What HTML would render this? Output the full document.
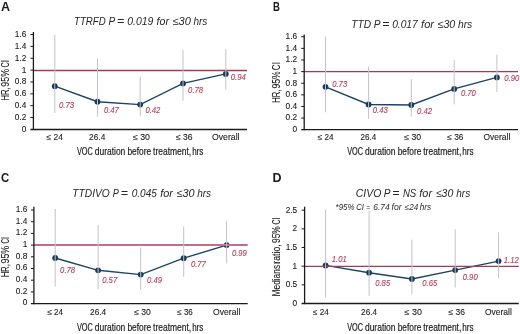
<!DOCTYPE html>
<html><head><meta charset="utf-8"><style>
html,body{margin:0;padding:0;background:#fff;}
svg{display:block;font-family:"Liberation Sans",sans-serif;will-change:transform;}
</style></head><body>
<svg width="520" height="334" viewBox="0 0 520 334" xmlns="http://www.w3.org/2000/svg">
<text x="1.00" y="10.70" font-size="12.5" text-anchor="start" font-weight="bold" font-style="normal" fill="#1a1a1a">A</text>
<text x="74.03" y="25.40" font-size="11" text-anchor="start" font-weight="normal" font-style="italic" fill="#262626" textLength="31.78" lengthAdjust="spacingAndGlyphs">TTRFD</text>
<text x="108.40" y="25.40" font-size="11" text-anchor="start" font-weight="normal" font-style="italic" fill="#262626" textLength="6.67" lengthAdjust="spacingAndGlyphs">P</text>
<text x="117.10" y="25.40" font-size="11" text-anchor="start" font-weight="normal" font-style="italic" fill="#262626" textLength="7.22" lengthAdjust="spacingAndGlyphs">=</text>
<text x="127.23" y="25.40" font-size="11" text-anchor="start" font-weight="normal" font-style="italic" fill="#262626" textLength="26.1" lengthAdjust="spacingAndGlyphs">0.019</text>
<text x="156.53" y="25.40" font-size="11" text-anchor="start" font-weight="normal" font-style="italic" fill="#262626" textLength="12.42" lengthAdjust="spacingAndGlyphs">for</text>
<text x="172.47" y="25.40" font-size="11" text-anchor="start" font-weight="normal" font-style="italic" fill="#262626" textLength="18.3" lengthAdjust="spacingAndGlyphs">≤30</text>
<text x="193.45" y="25.40" font-size="11" text-anchor="start" font-weight="normal" font-style="italic" fill="#262626" textLength="13.84" lengthAdjust="spacingAndGlyphs">hrs</text>
<polyline points="54.80,86.20 97.50,101.70 140.20,104.60 183.00,83.40 225.80,73.90" fill="none" stroke="#1c4368" stroke-width="1.4"/>
<circle cx="54.80" cy="86.20" r="2.9" fill="#153a5c"/>
<circle cx="97.50" cy="101.70" r="2.9" fill="#153a5c"/>
<circle cx="140.20" cy="104.60" r="2.9" fill="#153a5c"/>
<circle cx="183.00" cy="83.40" r="2.9" fill="#153a5c"/>
<circle cx="225.80" cy="73.90" r="2.9" fill="#153a5c"/>
<line x1="33.40" y1="70.50" x2="247.00" y2="70.50" stroke="#a83858" stroke-width="1.4"/>
<line x1="54.80" y1="34.80" x2="54.80" y2="113.00" stroke="#c2c3c6" stroke-width="1"/>
<line x1="97.50" y1="58.80" x2="97.50" y2="116.70" stroke="#c2c3c6" stroke-width="1"/>
<line x1="140.20" y1="77.00" x2="140.20" y2="116.20" stroke="#c2c3c6" stroke-width="1"/>
<line x1="183.00" y1="49.90" x2="183.00" y2="100.60" stroke="#c2c3c6" stroke-width="1"/>
<line x1="225.80" y1="49.20" x2="225.80" y2="89.60" stroke="#c2c3c6" stroke-width="1"/>
<line x1="33.40" y1="32.00" x2="33.40" y2="130.15" stroke="#1a1a1a" stroke-width="1.3"/>
<line x1="30.40" y1="129.50" x2="247.00" y2="129.50" stroke="#1a1a1a" stroke-width="1.3"/>
<text x="26.30" y="131.80" font-size="8.3" text-anchor="end" font-weight="normal" font-style="normal" fill="#1a1a1a" stroke="#1a1a1a" stroke-width="0.1">0</text>
<line x1="30.40" y1="117.54" x2="33.40" y2="117.54" stroke="#1a1a1a" stroke-width="1"/>
<text x="26.30" y="119.94" font-size="8.3" text-anchor="end" font-weight="normal" font-style="normal" fill="#1a1a1a" stroke="#1a1a1a" stroke-width="0.1">0.2</text>
<line x1="30.40" y1="105.68" x2="33.40" y2="105.68" stroke="#1a1a1a" stroke-width="1"/>
<text x="26.30" y="108.08" font-size="8.3" text-anchor="end" font-weight="normal" font-style="normal" fill="#1a1a1a" stroke="#1a1a1a" stroke-width="0.1">0.4</text>
<line x1="30.40" y1="93.82" x2="33.40" y2="93.82" stroke="#1a1a1a" stroke-width="1"/>
<text x="26.30" y="96.22" font-size="8.3" text-anchor="end" font-weight="normal" font-style="normal" fill="#1a1a1a" stroke="#1a1a1a" stroke-width="0.1">0.6</text>
<line x1="30.40" y1="81.96" x2="33.40" y2="81.96" stroke="#1a1a1a" stroke-width="1"/>
<text x="26.30" y="84.36" font-size="8.3" text-anchor="end" font-weight="normal" font-style="normal" fill="#1a1a1a" stroke="#1a1a1a" stroke-width="0.1">0.8</text>
<line x1="30.40" y1="70.10" x2="33.40" y2="70.10" stroke="#1a1a1a" stroke-width="1"/>
<text x="26.30" y="72.50" font-size="8.3" text-anchor="end" font-weight="normal" font-style="normal" fill="#1a1a1a" stroke="#1a1a1a" stroke-width="0.1">1</text>
<line x1="30.40" y1="58.24" x2="33.40" y2="58.24" stroke="#1a1a1a" stroke-width="1"/>
<text x="26.30" y="60.64" font-size="8.3" text-anchor="end" font-weight="normal" font-style="normal" fill="#1a1a1a" stroke="#1a1a1a" stroke-width="0.1">1.2</text>
<line x1="30.40" y1="46.38" x2="33.40" y2="46.38" stroke="#1a1a1a" stroke-width="1"/>
<text x="26.30" y="48.78" font-size="8.3" text-anchor="end" font-weight="normal" font-style="normal" fill="#1a1a1a" stroke="#1a1a1a" stroke-width="0.1">1.4</text>
<line x1="30.40" y1="34.52" x2="33.40" y2="34.52" stroke="#1a1a1a" stroke-width="1"/>
<text x="26.30" y="36.92" font-size="8.3" text-anchor="end" font-weight="normal" font-style="normal" fill="#1a1a1a" stroke="#1a1a1a" stroke-width="0.1">1.6</text>
<text x="59.00" y="107.70" font-size="9.2" text-anchor="start" font-weight="normal" font-style="italic" fill="#b33a55" stroke="#b33a55" stroke-width="0.1" textLength="15.0" lengthAdjust="spacingAndGlyphs">0.73</text>
<text x="103.90" y="113.20" font-size="9.2" text-anchor="start" font-weight="normal" font-style="italic" fill="#b33a55" stroke="#b33a55" stroke-width="0.1" textLength="15.0" lengthAdjust="spacingAndGlyphs">0.47</text>
<text x="145.40" y="113.40" font-size="9.2" text-anchor="start" font-weight="normal" font-style="italic" fill="#b33a55" stroke="#b33a55" stroke-width="0.1" textLength="15.0" lengthAdjust="spacingAndGlyphs">0.42</text>
<text x="188.10" y="93.10" font-size="9.2" text-anchor="start" font-weight="normal" font-style="italic" fill="#b33a55" stroke="#b33a55" stroke-width="0.1" textLength="15.0" lengthAdjust="spacingAndGlyphs">0.78</text>
<text x="230.80" y="80.40" font-size="9.2" text-anchor="start" font-weight="normal" font-style="italic" fill="#b33a55" stroke="#b33a55" stroke-width="0.1" textLength="15.0" lengthAdjust="spacingAndGlyphs">0.94</text>
<text x="46.50" y="140.10" font-size="8.4" text-anchor="start" font-weight="normal" font-style="normal" fill="#1a1a1a" stroke="#1a1a1a" stroke-width="0.1" textLength="16.4" lengthAdjust="spacingAndGlyphs">≤ 24</text>
<text x="89.10" y="140.10" font-size="8.4" text-anchor="start" font-weight="normal" font-style="normal" fill="#1a1a1a" stroke="#1a1a1a" stroke-width="0.1" textLength="16.200000000000003" lengthAdjust="spacingAndGlyphs">26.4</text>
<text x="133.00" y="140.10" font-size="8.4" text-anchor="start" font-weight="normal" font-style="normal" fill="#1a1a1a" stroke="#1a1a1a" stroke-width="0.1" textLength="17" lengthAdjust="spacingAndGlyphs">≤ 30</text>
<text x="176.00" y="140.10" font-size="8.4" text-anchor="start" font-weight="normal" font-style="normal" fill="#1a1a1a" stroke="#1a1a1a" stroke-width="0.1" textLength="16.5" lengthAdjust="spacingAndGlyphs">≤ 36</text>
<text x="212.00" y="140.10" font-size="8.4" text-anchor="start" font-weight="normal" font-style="normal" fill="#1a1a1a" stroke="#1a1a1a" stroke-width="0.1" textLength="27.5" lengthAdjust="spacingAndGlyphs">Overall</text>
<text x="76.96" y="154.70" font-size="11.2" text-anchor="start" font-weight="normal" font-style="normal" fill="#1a1a1a" stroke="#1a1a1a" stroke-width="0.2" textLength="15.81" lengthAdjust="spacingAndGlyphs">VOC</text>
<text x="94.76" y="154.70" font-size="11.2" text-anchor="start" font-weight="normal" font-style="normal" fill="#1a1a1a" stroke="#1a1a1a" stroke-width="0.2" textLength="30.58" lengthAdjust="spacingAndGlyphs">duration</text>
<text x="127.46" y="154.70" font-size="11.2" text-anchor="start" font-weight="normal" font-style="normal" fill="#1a1a1a" stroke="#1a1a1a" stroke-width="0.2" textLength="23.72" lengthAdjust="spacingAndGlyphs">before</text>
<text x="153.07" y="154.70" font-size="11.2" text-anchor="start" font-weight="normal" font-style="normal" fill="#1a1a1a" stroke="#1a1a1a" stroke-width="0.2" textLength="38.06" lengthAdjust="spacingAndGlyphs">treatment,</text>
<text x="192.13" y="154.70" font-size="11.2" text-anchor="start" font-weight="normal" font-style="normal" fill="#1a1a1a" stroke="#1a1a1a" stroke-width="0.2" textLength="11.24" lengthAdjust="spacingAndGlyphs">hrs</text>
<text transform="translate(9.00,0) rotate(-90)" x="-100.51" y="0" font-size="10" fill="#1a1a1a" stroke="#1a1a1a" stroke-width="0.1" textLength="13.07" lengthAdjust="spacingAndGlyphs">HR,</text>
<text transform="translate(9.00,0) rotate(-90)" x="-86.70" y="0" font-size="10" fill="#1a1a1a" stroke="#1a1a1a" stroke-width="0.1" textLength="17.83" lengthAdjust="spacingAndGlyphs">95%</text>
<text transform="translate(9.00,0) rotate(-90)" x="-67.47" y="0" font-size="10" fill="#1a1a1a" stroke="#1a1a1a" stroke-width="0.1" textLength="7.37" lengthAdjust="spacingAndGlyphs">CI</text>
<text x="272.90" y="10.60" font-size="12.5" text-anchor="start" font-weight="bold" font-style="normal" fill="#1a1a1a" textLength="6.9" lengthAdjust="spacingAndGlyphs">B</text>
<text x="351.28" y="27.60" font-size="11" text-anchor="start" font-weight="normal" font-style="italic" fill="#262626" textLength="19.87" lengthAdjust="spacingAndGlyphs">TTD</text>
<text x="373.70" y="27.60" font-size="11" text-anchor="start" font-weight="normal" font-style="italic" fill="#262626" textLength="6.78" lengthAdjust="spacingAndGlyphs">P</text>
<text x="382.20" y="27.60" font-size="11" text-anchor="start" font-weight="normal" font-style="italic" fill="#262626" textLength="7.22" lengthAdjust="spacingAndGlyphs">=</text>
<text x="392.14" y="27.60" font-size="11" text-anchor="start" font-weight="normal" font-style="italic" fill="#262626" textLength="25.58" lengthAdjust="spacingAndGlyphs">0.017</text>
<text x="421.11" y="27.60" font-size="11" text-anchor="start" font-weight="normal" font-style="italic" fill="#262626" textLength="12.92" lengthAdjust="spacingAndGlyphs">for</text>
<text x="437.58" y="27.60" font-size="11" text-anchor="start" font-weight="normal" font-style="italic" fill="#262626" textLength="17.69" lengthAdjust="spacingAndGlyphs">≤30</text>
<text x="457.95" y="27.60" font-size="11" text-anchor="start" font-weight="normal" font-style="italic" fill="#262626" textLength="14.25" lengthAdjust="spacingAndGlyphs">hrs</text>
<polyline points="325.50,86.80 368.60,104.50 411.30,105.00 454.20,88.90 496.90,77.40" fill="none" stroke="#1c4368" stroke-width="1.4"/>
<circle cx="325.50" cy="86.80" r="2.9" fill="#153a5c"/>
<circle cx="368.60" cy="104.50" r="2.9" fill="#153a5c"/>
<circle cx="411.30" cy="105.00" r="2.9" fill="#153a5c"/>
<circle cx="454.20" cy="88.90" r="2.9" fill="#153a5c"/>
<circle cx="496.90" cy="77.40" r="2.9" fill="#153a5c"/>
<line x1="304.20" y1="71.65" x2="518.00" y2="71.65" stroke="#a83858" stroke-width="1.4"/>
<line x1="325.50" y1="36.50" x2="325.50" y2="112.30" stroke="#c2c3c6" stroke-width="1"/>
<line x1="368.60" y1="66.70" x2="368.60" y2="118.70" stroke="#c2c3c6" stroke-width="1"/>
<line x1="411.30" y1="79.20" x2="411.30" y2="116.50" stroke="#c2c3c6" stroke-width="1"/>
<line x1="454.20" y1="60.10" x2="454.20" y2="104.60" stroke="#c2c3c6" stroke-width="1"/>
<line x1="496.90" y1="54.50" x2="496.90" y2="91.90" stroke="#c2c3c6" stroke-width="1"/>
<line x1="304.20" y1="34.50" x2="304.20" y2="130.25" stroke="#1a1a1a" stroke-width="1.3"/>
<line x1="301.20" y1="129.60" x2="518.00" y2="129.60" stroke="#1a1a1a" stroke-width="1.3"/>
<text x="297.10" y="132.10" font-size="8.3" text-anchor="end" font-weight="normal" font-style="normal" fill="#1a1a1a" stroke="#1a1a1a" stroke-width="0.1">0</text>
<line x1="301.20" y1="118.08" x2="304.20" y2="118.08" stroke="#1a1a1a" stroke-width="1"/>
<text x="297.10" y="120.48" font-size="8.3" text-anchor="end" font-weight="normal" font-style="normal" fill="#1a1a1a" stroke="#1a1a1a" stroke-width="0.1">0.2</text>
<line x1="301.20" y1="106.46" x2="304.20" y2="106.46" stroke="#1a1a1a" stroke-width="1"/>
<text x="297.10" y="108.86" font-size="8.3" text-anchor="end" font-weight="normal" font-style="normal" fill="#1a1a1a" stroke="#1a1a1a" stroke-width="0.1">0.4</text>
<line x1="301.20" y1="94.84" x2="304.20" y2="94.84" stroke="#1a1a1a" stroke-width="1"/>
<text x="297.10" y="97.24" font-size="8.3" text-anchor="end" font-weight="normal" font-style="normal" fill="#1a1a1a" stroke="#1a1a1a" stroke-width="0.1">0.6</text>
<line x1="301.20" y1="83.22" x2="304.20" y2="83.22" stroke="#1a1a1a" stroke-width="1"/>
<text x="297.10" y="85.62" font-size="8.3" text-anchor="end" font-weight="normal" font-style="normal" fill="#1a1a1a" stroke="#1a1a1a" stroke-width="0.1">0.8</text>
<line x1="301.20" y1="71.60" x2="304.20" y2="71.60" stroke="#1a1a1a" stroke-width="1"/>
<text x="297.10" y="74.00" font-size="8.3" text-anchor="end" font-weight="normal" font-style="normal" fill="#1a1a1a" stroke="#1a1a1a" stroke-width="0.1">1</text>
<line x1="301.20" y1="59.98" x2="304.20" y2="59.98" stroke="#1a1a1a" stroke-width="1"/>
<text x="297.10" y="62.38" font-size="8.3" text-anchor="end" font-weight="normal" font-style="normal" fill="#1a1a1a" stroke="#1a1a1a" stroke-width="0.1">1.2</text>
<line x1="301.20" y1="48.36" x2="304.20" y2="48.36" stroke="#1a1a1a" stroke-width="1"/>
<text x="297.10" y="50.76" font-size="8.3" text-anchor="end" font-weight="normal" font-style="normal" fill="#1a1a1a" stroke="#1a1a1a" stroke-width="0.1">1.4</text>
<line x1="301.20" y1="36.74" x2="304.20" y2="36.74" stroke="#1a1a1a" stroke-width="1"/>
<text x="297.10" y="39.14" font-size="8.3" text-anchor="end" font-weight="normal" font-style="normal" fill="#1a1a1a" stroke="#1a1a1a" stroke-width="0.1">1.6</text>
<text x="332.20" y="86.90" font-size="9.2" text-anchor="start" font-weight="normal" font-style="italic" fill="#b33a55" stroke="#b33a55" stroke-width="0.1" textLength="15.0" lengthAdjust="spacingAndGlyphs">0.73</text>
<text x="372.80" y="113.00" font-size="9.2" text-anchor="start" font-weight="normal" font-style="italic" fill="#b33a55" stroke="#b33a55" stroke-width="0.1" textLength="15.0" lengthAdjust="spacingAndGlyphs">0.43</text>
<text x="417.00" y="113.80" font-size="9.2" text-anchor="start" font-weight="normal" font-style="italic" fill="#b33a55" stroke="#b33a55" stroke-width="0.1" textLength="15.0" lengthAdjust="spacingAndGlyphs">0.42</text>
<text x="460.90" y="95.80" font-size="9.2" text-anchor="start" font-weight="normal" font-style="italic" fill="#b33a55" stroke="#b33a55" stroke-width="0.1" textLength="15.0" lengthAdjust="spacingAndGlyphs">0.70</text>
<text x="504.30" y="81.10" font-size="9.2" text-anchor="start" font-weight="normal" font-style="italic" fill="#b33a55" stroke="#b33a55" stroke-width="0.1" textLength="15.0" lengthAdjust="spacingAndGlyphs">0.90</text>
<text x="317.80" y="140.10" font-size="8.4" text-anchor="start" font-weight="normal" font-style="normal" fill="#1a1a1a" stroke="#1a1a1a" stroke-width="0.1" textLength="15.800000000000011" lengthAdjust="spacingAndGlyphs">≤ 24</text>
<text x="360.50" y="140.10" font-size="8.4" text-anchor="start" font-weight="normal" font-style="normal" fill="#1a1a1a" stroke="#1a1a1a" stroke-width="0.1" textLength="15.699999999999989" lengthAdjust="spacingAndGlyphs">26.4</text>
<text x="404.20" y="140.10" font-size="8.4" text-anchor="start" font-weight="normal" font-style="normal" fill="#1a1a1a" stroke="#1a1a1a" stroke-width="0.1" textLength="17.0" lengthAdjust="spacingAndGlyphs">≤ 30</text>
<text x="447.30" y="140.10" font-size="8.4" text-anchor="start" font-weight="normal" font-style="normal" fill="#1a1a1a" stroke="#1a1a1a" stroke-width="0.1" textLength="16.19999999999999" lengthAdjust="spacingAndGlyphs">≤ 36</text>
<text x="483.50" y="140.10" font-size="8.4" text-anchor="start" font-weight="normal" font-style="normal" fill="#1a1a1a" stroke="#1a1a1a" stroke-width="0.1" textLength="26.80000000000001" lengthAdjust="spacingAndGlyphs">Overall</text>
<text x="347.16" y="154.70" font-size="11.2" text-anchor="start" font-weight="normal" font-style="normal" fill="#1a1a1a" stroke="#1a1a1a" stroke-width="0.2" textLength="15.81" lengthAdjust="spacingAndGlyphs">VOC</text>
<text x="364.96" y="154.70" font-size="11.2" text-anchor="start" font-weight="normal" font-style="normal" fill="#1a1a1a" stroke="#1a1a1a" stroke-width="0.2" textLength="30.58" lengthAdjust="spacingAndGlyphs">duration</text>
<text x="397.66" y="154.70" font-size="11.2" text-anchor="start" font-weight="normal" font-style="normal" fill="#1a1a1a" stroke="#1a1a1a" stroke-width="0.2" textLength="23.72" lengthAdjust="spacingAndGlyphs">before</text>
<text x="423.27" y="154.70" font-size="11.2" text-anchor="start" font-weight="normal" font-style="normal" fill="#1a1a1a" stroke="#1a1a1a" stroke-width="0.2" textLength="38.06" lengthAdjust="spacingAndGlyphs">treatment,</text>
<text x="462.33" y="154.70" font-size="11.2" text-anchor="start" font-weight="normal" font-style="normal" fill="#1a1a1a" stroke="#1a1a1a" stroke-width="0.2" textLength="11.24" lengthAdjust="spacingAndGlyphs">hrs</text>
<text transform="translate(280.00,0) rotate(-90)" x="-102.71" y="0" font-size="10" fill="#1a1a1a" stroke="#1a1a1a" stroke-width="0.1" textLength="13.07" lengthAdjust="spacingAndGlyphs">HR,</text>
<text transform="translate(280.00,0) rotate(-90)" x="-88.49" y="0" font-size="10" fill="#1a1a1a" stroke="#1a1a1a" stroke-width="0.1" textLength="17.20" lengthAdjust="spacingAndGlyphs">95%</text>
<text transform="translate(280.00,0) rotate(-90)" x="-70.20" y="0" font-size="10" fill="#1a1a1a" stroke="#1a1a1a" stroke-width="0.1" textLength="8.07" lengthAdjust="spacingAndGlyphs">CI</text>
<text x="1.00" y="181.80" font-size="12.5" text-anchor="start" font-weight="bold" font-style="normal" fill="#1a1a1a" textLength="8.2" lengthAdjust="spacingAndGlyphs">C</text>
<text x="72.28" y="196.90" font-size="11" text-anchor="start" font-weight="normal" font-style="italic" fill="#262626" textLength="37.49" lengthAdjust="spacingAndGlyphs">TTDIVO</text>
<text x="112.73" y="196.90" font-size="11" text-anchor="start" font-weight="normal" font-style="italic" fill="#262626" textLength="6.09" lengthAdjust="spacingAndGlyphs">P</text>
<text x="120.80" y="196.90" font-size="11" text-anchor="start" font-weight="normal" font-style="italic" fill="#262626" textLength="7.22" lengthAdjust="spacingAndGlyphs">=</text>
<text x="131.65" y="196.90" font-size="11" text-anchor="start" font-weight="normal" font-style="italic" fill="#262626" textLength="25.23" lengthAdjust="spacingAndGlyphs">0.045</text>
<text x="160.22" y="196.90" font-size="11" text-anchor="start" font-weight="normal" font-style="italic" fill="#262626" textLength="12.72" lengthAdjust="spacingAndGlyphs">for</text>
<text x="176.48" y="196.90" font-size="11" text-anchor="start" font-weight="normal" font-style="italic" fill="#262626" textLength="17.99" lengthAdjust="spacingAndGlyphs">≤30</text>
<text x="197.15" y="196.90" font-size="11" text-anchor="start" font-weight="normal" font-style="italic" fill="#262626" textLength="13.94" lengthAdjust="spacingAndGlyphs">hrs</text>
<polyline points="55.20,258.00 98.10,270.30 140.70,274.60 183.70,258.20 226.60,245.10" fill="none" stroke="#1c4368" stroke-width="1.4"/>
<circle cx="55.20" cy="258.00" r="2.9" fill="#153a5c"/>
<circle cx="98.10" cy="270.30" r="2.9" fill="#153a5c"/>
<circle cx="140.70" cy="274.60" r="2.9" fill="#153a5c"/>
<circle cx="183.70" cy="258.20" r="2.9" fill="#153a5c"/>
<circle cx="226.60" cy="245.10" r="2.9" fill="#153a5c"/>
<line x1="33.90" y1="245.00" x2="247.70" y2="245.00" stroke="#c86a8a" stroke-width="2.0"/>
<line x1="55.20" y1="208.90" x2="55.20" y2="286.50" stroke="#c2c3c6" stroke-width="1"/>
<line x1="98.10" y1="225.00" x2="98.10" y2="289.10" stroke="#c2c3c6" stroke-width="1"/>
<line x1="140.70" y1="247.40" x2="140.70" y2="289.60" stroke="#c2c3c6" stroke-width="1"/>
<line x1="183.70" y1="226.50" x2="183.70" y2="276.90" stroke="#c2c3c6" stroke-width="1"/>
<line x1="226.60" y1="221.20" x2="226.60" y2="263.10" stroke="#c2c3c6" stroke-width="1"/>
<line x1="33.90" y1="206.70" x2="33.90" y2="304.35" stroke="#1a1a1a" stroke-width="1.3"/>
<line x1="30.90" y1="303.70" x2="247.70" y2="303.70" stroke="#1a1a1a" stroke-width="1.3"/>
<text x="27.40" y="305.40" font-size="8.3" text-anchor="end" font-weight="normal" font-style="normal" fill="#1a1a1a" stroke="#1a1a1a" stroke-width="0.1">0</text>
<line x1="30.90" y1="291.90" x2="33.90" y2="291.90" stroke="#1a1a1a" stroke-width="1"/>
<text x="27.40" y="293.70" font-size="8.3" text-anchor="end" font-weight="normal" font-style="normal" fill="#1a1a1a" stroke="#1a1a1a" stroke-width="0.1">0.2</text>
<line x1="30.90" y1="280.20" x2="33.90" y2="280.20" stroke="#1a1a1a" stroke-width="1"/>
<text x="27.40" y="282.00" font-size="8.3" text-anchor="end" font-weight="normal" font-style="normal" fill="#1a1a1a" stroke="#1a1a1a" stroke-width="0.1">0.4</text>
<line x1="30.90" y1="268.50" x2="33.90" y2="268.50" stroke="#1a1a1a" stroke-width="1"/>
<text x="27.40" y="270.30" font-size="8.3" text-anchor="end" font-weight="normal" font-style="normal" fill="#1a1a1a" stroke="#1a1a1a" stroke-width="0.1">0.6</text>
<line x1="30.90" y1="256.80" x2="33.90" y2="256.80" stroke="#1a1a1a" stroke-width="1"/>
<text x="27.40" y="258.60" font-size="8.3" text-anchor="end" font-weight="normal" font-style="normal" fill="#1a1a1a" stroke="#1a1a1a" stroke-width="0.1">0.8</text>
<line x1="30.90" y1="245.10" x2="33.90" y2="245.10" stroke="#1a1a1a" stroke-width="1"/>
<text x="27.40" y="246.90" font-size="8.3" text-anchor="end" font-weight="normal" font-style="normal" fill="#1a1a1a" stroke="#1a1a1a" stroke-width="0.1">1</text>
<line x1="30.90" y1="233.40" x2="33.90" y2="233.40" stroke="#1a1a1a" stroke-width="1"/>
<text x="27.40" y="235.20" font-size="8.3" text-anchor="end" font-weight="normal" font-style="normal" fill="#1a1a1a" stroke="#1a1a1a" stroke-width="0.1">1.2</text>
<line x1="30.90" y1="221.70" x2="33.90" y2="221.70" stroke="#1a1a1a" stroke-width="1"/>
<text x="27.40" y="223.50" font-size="8.3" text-anchor="end" font-weight="normal" font-style="normal" fill="#1a1a1a" stroke="#1a1a1a" stroke-width="0.1">1.4</text>
<line x1="30.90" y1="210.00" x2="33.90" y2="210.00" stroke="#1a1a1a" stroke-width="1"/>
<text x="27.40" y="211.80" font-size="8.3" text-anchor="end" font-weight="normal" font-style="normal" fill="#1a1a1a" stroke="#1a1a1a" stroke-width="0.1">1.6</text>
<text x="60.10" y="273.20" font-size="9.2" text-anchor="start" font-weight="normal" font-style="italic" fill="#b33a55" stroke="#b33a55" stroke-width="0.1" textLength="15.0" lengthAdjust="spacingAndGlyphs">0.78</text>
<text x="102.20" y="283.00" font-size="9.2" text-anchor="start" font-weight="normal" font-style="italic" fill="#b33a55" stroke="#b33a55" stroke-width="0.1" textLength="15.0" lengthAdjust="spacingAndGlyphs">0.57</text>
<text x="147.00" y="283.20" font-size="9.2" text-anchor="start" font-weight="normal" font-style="italic" fill="#b33a55" stroke="#b33a55" stroke-width="0.1" textLength="15.0" lengthAdjust="spacingAndGlyphs">0.49</text>
<text x="190.90" y="267.00" font-size="9.2" text-anchor="start" font-weight="normal" font-style="italic" fill="#b33a55" stroke="#b33a55" stroke-width="0.1" textLength="15.0" lengthAdjust="spacingAndGlyphs">0.77</text>
<text x="231.90" y="255.50" font-size="9.2" text-anchor="start" font-weight="normal" font-style="italic" fill="#b33a55" stroke="#b33a55" stroke-width="0.1" textLength="15.0" lengthAdjust="spacingAndGlyphs">0.99</text>
<text x="47.40" y="314.80" font-size="8.4" text-anchor="start" font-weight="normal" font-style="normal" fill="#1a1a1a" stroke="#1a1a1a" stroke-width="0.1" textLength="15.700000000000003" lengthAdjust="spacingAndGlyphs">≤ 24</text>
<text x="90.10" y="314.80" font-size="8.4" text-anchor="start" font-weight="normal" font-style="normal" fill="#1a1a1a" stroke="#1a1a1a" stroke-width="0.1" textLength="16.10000000000001" lengthAdjust="spacingAndGlyphs">26.4</text>
<text x="134.20" y="314.80" font-size="8.4" text-anchor="start" font-weight="normal" font-style="normal" fill="#1a1a1a" stroke="#1a1a1a" stroke-width="0.1" textLength="16.600000000000023" lengthAdjust="spacingAndGlyphs">≤ 30</text>
<text x="177.30" y="314.80" font-size="8.4" text-anchor="start" font-weight="normal" font-style="normal" fill="#1a1a1a" stroke="#1a1a1a" stroke-width="0.1" textLength="15.5" lengthAdjust="spacingAndGlyphs">≤ 36</text>
<text x="213.10" y="314.80" font-size="8.4" text-anchor="start" font-weight="normal" font-style="normal" fill="#1a1a1a" stroke="#1a1a1a" stroke-width="0.1" textLength="27.200000000000017" lengthAdjust="spacingAndGlyphs">Overall</text>
<text x="76.96" y="331.20" font-size="11.2" text-anchor="start" font-weight="normal" font-style="normal" fill="#1a1a1a" stroke="#1a1a1a" stroke-width="0.2" textLength="15.81" lengthAdjust="spacingAndGlyphs">VOC</text>
<text x="94.76" y="331.20" font-size="11.2" text-anchor="start" font-weight="normal" font-style="normal" fill="#1a1a1a" stroke="#1a1a1a" stroke-width="0.2" textLength="30.58" lengthAdjust="spacingAndGlyphs">duration</text>
<text x="127.46" y="331.20" font-size="11.2" text-anchor="start" font-weight="normal" font-style="normal" fill="#1a1a1a" stroke="#1a1a1a" stroke-width="0.2" textLength="23.72" lengthAdjust="spacingAndGlyphs">before</text>
<text x="153.07" y="331.20" font-size="11.2" text-anchor="start" font-weight="normal" font-style="normal" fill="#1a1a1a" stroke="#1a1a1a" stroke-width="0.2" textLength="38.06" lengthAdjust="spacingAndGlyphs">treatment,</text>
<text x="192.13" y="331.20" font-size="11.2" text-anchor="start" font-weight="normal" font-style="normal" fill="#1a1a1a" stroke="#1a1a1a" stroke-width="0.2" textLength="11.24" lengthAdjust="spacingAndGlyphs">hrs</text>
<text transform="translate(9.00,0) rotate(-90)" x="-276.99" y="0" font-size="10" fill="#1a1a1a" stroke="#1a1a1a" stroke-width="0.1" textLength="12.74" lengthAdjust="spacingAndGlyphs">HR,</text>
<text transform="translate(9.00,0) rotate(-90)" x="-263.50" y="0" font-size="10" fill="#1a1a1a" stroke="#1a1a1a" stroke-width="0.1" textLength="17.62" lengthAdjust="spacingAndGlyphs">95%</text>
<text transform="translate(9.00,0) rotate(-90)" x="-243.51" y="0" font-size="10" fill="#1a1a1a" stroke="#1a1a1a" stroke-width="0.1" textLength="6.20" lengthAdjust="spacingAndGlyphs">CI</text>
<text x="272.50" y="181.50" font-size="12.5" text-anchor="start" font-weight="bold" font-style="normal" fill="#1a1a1a">D</text>
<text x="355.72" y="196.90" font-size="11" text-anchor="start" font-weight="normal" font-style="italic" fill="#262626" textLength="25.69" lengthAdjust="spacingAndGlyphs">CIVO</text>
<text x="383.70" y="196.90" font-size="11" text-anchor="start" font-weight="normal" font-style="italic" fill="#262626" textLength="6.78" lengthAdjust="spacingAndGlyphs">P</text>
<text x="392.20" y="196.90" font-size="11" text-anchor="start" font-weight="normal" font-style="italic" fill="#262626" textLength="7.22" lengthAdjust="spacingAndGlyphs">=</text>
<text x="402.91" y="196.90" font-size="11" text-anchor="start" font-weight="normal" font-style="italic" fill="#262626" textLength="13.32" lengthAdjust="spacingAndGlyphs">NS</text>
<text x="419.32" y="196.90" font-size="11" text-anchor="start" font-weight="normal" font-style="italic" fill="#262626" textLength="12.72" lengthAdjust="spacingAndGlyphs">for</text>
<text x="435.89" y="196.90" font-size="11" text-anchor="start" font-weight="normal" font-style="italic" fill="#262626" textLength="17.38" lengthAdjust="spacingAndGlyphs">≤30</text>
<text x="456.25" y="196.90" font-size="11" text-anchor="start" font-weight="normal" font-style="italic" fill="#262626" textLength="13.94" lengthAdjust="spacingAndGlyphs">hrs</text>
<polyline points="325.60,265.40 369.10,272.70 411.90,279.00 455.20,270.10 498.60,261.10" fill="none" stroke="#1c4368" stroke-width="1.4"/>
<circle cx="325.60" cy="265.40" r="2.9" fill="#153a5c"/>
<circle cx="369.10" cy="272.70" r="2.9" fill="#153a5c"/>
<circle cx="411.90" cy="279.00" r="2.9" fill="#153a5c"/>
<circle cx="455.20" cy="270.10" r="2.9" fill="#153a5c"/>
<circle cx="498.60" cy="261.10" r="2.9" fill="#153a5c"/>
<line x1="304.60" y1="266.40" x2="518.80" y2="266.40" stroke="#a83858" stroke-width="1.15"/>
<line x1="325.60" y1="209.50" x2="325.60" y2="297.50" stroke="#c2c3c6" stroke-width="1"/>
<line x1="369.10" y1="210.40" x2="369.10" y2="295.80" stroke="#c2c3c6" stroke-width="1"/>
<line x1="411.90" y1="239.70" x2="411.90" y2="293.80" stroke="#c2c3c6" stroke-width="1"/>
<line x1="455.20" y1="229.50" x2="455.20" y2="287.40" stroke="#c2c3c6" stroke-width="1"/>
<line x1="498.60" y1="232.30" x2="498.60" y2="278.20" stroke="#c2c3c6" stroke-width="1"/>
<line x1="304.60" y1="206.70" x2="304.60" y2="304.15" stroke="#1a1a1a" stroke-width="1.3"/>
<line x1="301.60" y1="303.50" x2="518.80" y2="303.50" stroke="#1a1a1a" stroke-width="1.3"/>
<text x="297.20" y="305.90" font-size="8.3" text-anchor="end" font-weight="normal" font-style="normal" fill="#1a1a1a" stroke="#1a1a1a" stroke-width="0.1">0</text>
<line x1="301.60" y1="284.84" x2="304.60" y2="284.84" stroke="#1a1a1a" stroke-width="1"/>
<text x="297.20" y="287.24" font-size="8.3" text-anchor="end" font-weight="normal" font-style="normal" fill="#1a1a1a" stroke="#1a1a1a" stroke-width="0.1">0.5</text>
<line x1="301.60" y1="266.18" x2="304.60" y2="266.18" stroke="#1a1a1a" stroke-width="1"/>
<text x="297.20" y="268.58" font-size="8.3" text-anchor="end" font-weight="normal" font-style="normal" fill="#1a1a1a" stroke="#1a1a1a" stroke-width="0.1">1</text>
<line x1="301.60" y1="247.52" x2="304.60" y2="247.52" stroke="#1a1a1a" stroke-width="1"/>
<text x="297.20" y="249.92" font-size="8.3" text-anchor="end" font-weight="normal" font-style="normal" fill="#1a1a1a" stroke="#1a1a1a" stroke-width="0.1">1.5</text>
<line x1="301.60" y1="228.86" x2="304.60" y2="228.86" stroke="#1a1a1a" stroke-width="1"/>
<text x="297.20" y="231.26" font-size="8.3" text-anchor="end" font-weight="normal" font-style="normal" fill="#1a1a1a" stroke="#1a1a1a" stroke-width="0.1">2</text>
<line x1="301.60" y1="210.20" x2="304.60" y2="210.20" stroke="#1a1a1a" stroke-width="1"/>
<text x="297.20" y="212.60" font-size="8.3" text-anchor="end" font-weight="normal" font-style="normal" fill="#1a1a1a" stroke="#1a1a1a" stroke-width="0.1">2.5</text>
<text x="331.80" y="262.10" font-size="9.2" text-anchor="start" font-weight="normal" font-style="italic" fill="#b33a55" stroke="#b33a55" stroke-width="0.1" textLength="15.0" lengthAdjust="spacingAndGlyphs">1.01</text>
<text x="375.20" y="286.40" font-size="9.2" text-anchor="start" font-weight="normal" font-style="italic" fill="#b33a55" stroke="#b33a55" stroke-width="0.1" textLength="15.0" lengthAdjust="spacingAndGlyphs">0.85</text>
<text x="422.30" y="285.80" font-size="9.2" text-anchor="start" font-weight="normal" font-style="italic" fill="#b33a55" stroke="#b33a55" stroke-width="0.1" textLength="15.0" lengthAdjust="spacingAndGlyphs">0.65</text>
<text x="462.70" y="279.50" font-size="9.2" text-anchor="start" font-weight="normal" font-style="italic" fill="#b33a55" stroke="#b33a55" stroke-width="0.1" textLength="15.0" lengthAdjust="spacingAndGlyphs">0.90</text>
<text x="503.80" y="262.70" font-size="9.2" text-anchor="start" font-weight="normal" font-style="italic" fill="#b33a55" stroke="#b33a55" stroke-width="0.1" textLength="15.0" lengthAdjust="spacingAndGlyphs">1.12</text>
<text x="313.00" y="314.80" font-size="8.4" text-anchor="start" font-weight="normal" font-style="normal" fill="#1a1a1a" stroke="#1a1a1a" stroke-width="0.1" textLength="15.800000000000011" lengthAdjust="spacingAndGlyphs">≤ 24</text>
<text x="361.10" y="314.80" font-size="8.4" text-anchor="start" font-weight="normal" font-style="normal" fill="#1a1a1a" stroke="#1a1a1a" stroke-width="0.1" textLength="15.899999999999977" lengthAdjust="spacingAndGlyphs">26.4</text>
<text x="404.60" y="314.80" font-size="8.4" text-anchor="start" font-weight="normal" font-style="normal" fill="#1a1a1a" stroke="#1a1a1a" stroke-width="0.1" textLength="17.299999999999955" lengthAdjust="spacingAndGlyphs">≤ 30</text>
<text x="448.50" y="314.80" font-size="8.4" text-anchor="start" font-weight="normal" font-style="normal" fill="#1a1a1a" stroke="#1a1a1a" stroke-width="0.1" textLength="16.600000000000023" lengthAdjust="spacingAndGlyphs">≤ 36</text>
<text x="484.90" y="314.80" font-size="8.4" text-anchor="start" font-weight="normal" font-style="normal" fill="#1a1a1a" stroke="#1a1a1a" stroke-width="0.1" textLength="27.0" lengthAdjust="spacingAndGlyphs">Overall</text>
<text x="347.16" y="331.20" font-size="11.2" text-anchor="start" font-weight="normal" font-style="normal" fill="#1a1a1a" stroke="#1a1a1a" stroke-width="0.2" textLength="15.81" lengthAdjust="spacingAndGlyphs">VOC</text>
<text x="364.96" y="331.20" font-size="11.2" text-anchor="start" font-weight="normal" font-style="normal" fill="#1a1a1a" stroke="#1a1a1a" stroke-width="0.2" textLength="30.58" lengthAdjust="spacingAndGlyphs">duration</text>
<text x="397.66" y="331.20" font-size="11.2" text-anchor="start" font-weight="normal" font-style="normal" fill="#1a1a1a" stroke="#1a1a1a" stroke-width="0.2" textLength="23.72" lengthAdjust="spacingAndGlyphs">before</text>
<text x="423.27" y="331.20" font-size="11.2" text-anchor="start" font-weight="normal" font-style="normal" fill="#1a1a1a" stroke="#1a1a1a" stroke-width="0.2" textLength="38.06" lengthAdjust="spacingAndGlyphs">treatment,</text>
<text x="462.33" y="331.20" font-size="11.2" text-anchor="start" font-weight="normal" font-style="normal" fill="#1a1a1a" stroke="#1a1a1a" stroke-width="0.2" textLength="11.24" lengthAdjust="spacingAndGlyphs">hrs</text>
<text transform="translate(280.20,0) rotate(-90)" x="-296.47" y="0" font-size="10" fill="#1a1a1a" stroke="#1a1a1a" stroke-width="0.1" textLength="31.56" lengthAdjust="spacingAndGlyphs">Medians</text>
<text transform="translate(280.20,0) rotate(-90)" x="-263.77" y="0" font-size="10" fill="#1a1a1a" stroke="#1a1a1a" stroke-width="0.1" textLength="19.44" lengthAdjust="spacingAndGlyphs">ratio,</text>
<text transform="translate(280.20,0) rotate(-90)" x="-242.98" y="0" font-size="10" fill="#1a1a1a" stroke="#1a1a1a" stroke-width="0.1" textLength="16.78" lengthAdjust="spacingAndGlyphs">95%</text>
<text transform="translate(280.20,0) rotate(-90)" x="-224.55" y="0" font-size="10" fill="#1a1a1a" stroke="#1a1a1a" stroke-width="0.1" textLength="6.90" lengthAdjust="spacingAndGlyphs">CI</text>
<text x="335.62" y="209.60" font-size="8.2" text-anchor="start" font-weight="normal" font-style="italic" fill="#2a2a2a" textLength="18.94" lengthAdjust="spacingAndGlyphs">*95%</text>
<text x="356.17" y="209.60" font-size="8.2" text-anchor="start" font-weight="normal" font-style="italic" fill="#2a2a2a" textLength="7.74" lengthAdjust="spacingAndGlyphs">CI</text>
<text x="366.28" y="209.60" font-size="8.2" text-anchor="start" font-weight="normal" font-style="italic" fill="#2a2a2a" textLength="3.73" lengthAdjust="spacingAndGlyphs">=</text>
<text x="373.23" y="209.60" font-size="8.2" text-anchor="start" font-weight="normal" font-style="italic" fill="#2a2a2a" textLength="16.47" lengthAdjust="spacingAndGlyphs">6.74</text>
<text x="391.60" y="209.60" font-size="8.2" text-anchor="start" font-weight="normal" font-style="italic" fill="#2a2a2a" textLength="10.12" lengthAdjust="spacingAndGlyphs">for</text>
<text x="404.86" y="209.60" font-size="8.2" text-anchor="start" font-weight="normal" font-style="italic" fill="#2a2a2a" textLength="13.44" lengthAdjust="spacingAndGlyphs">≤24</text>
<text x="419.68" y="209.60" font-size="8.2" text-anchor="start" font-weight="normal" font-style="italic" fill="#2a2a2a" textLength="11.38" lengthAdjust="spacingAndGlyphs">hrs</text>
</svg></body></html>
